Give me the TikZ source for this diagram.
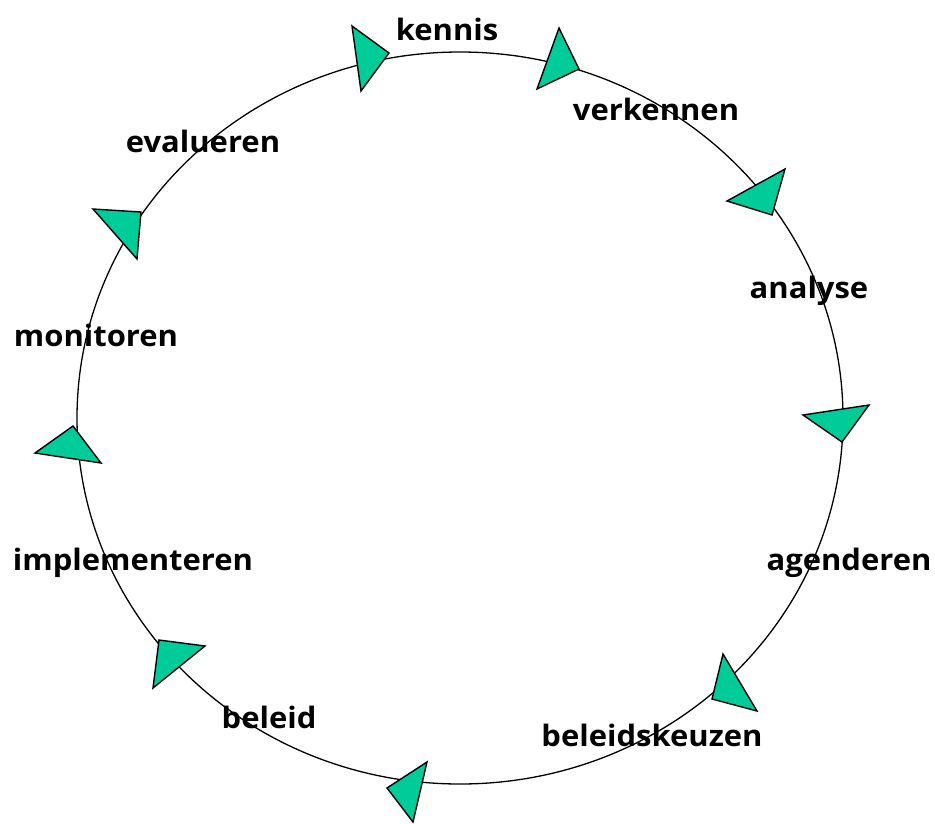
\documentclass[tikz,border=0pt]{standalone}
\usepackage{fontspec}
\setmainfont{Open Sans}[FakeStretch=1.05]
\begin{document}
\begin{tikzpicture}[x=1pt,y=-1pt,
  lbl/.style={font=\bfseries\fontsize{29.5}{34}\selectfont, inner sep=0pt, anchor=base},
  tri/.style={draw=black, line width=1.4pt, fill=triGreen, line join=miter},
  ring/.style={draw=black, line width=1.3pt}]
\definecolor{triGreen}{HTML}{00CC99}
\useasboundingbox (0,0) rectangle (935,823);
% labels
\node[lbl] (kennis) at (447,40) {kennis};
\node[lbl] (verkennen) at (656,120) {verkennen};
\node[lbl] (analyse) at (809,298) {analyse};
\node[lbl] (agenderen) at (849,570) {agenderen};
\node[lbl] (beleidskeuzen) at (652,746) {beleidskeuzen};
\node[lbl] (beleid) at (269,728) {beleid};
\node[lbl] (implementeren) at (133,570) {implementeren};
\node[lbl] (monitoren) at (96,346) {monitoren};
\node[lbl] (evalueren) at (203,152) {evalueren};
% cycle
\coordinate (c) at (460,418);
\draw[ring] (c) ellipse [x radius=383, y radius=366];
% arrowheads
\draw[tri] (352,26) -- (389,53) -- (361,91) -- cycle;
\draw[tri] (559,28) -- (579,69) -- (537,89) -- cycle;
\draw[tri] (785,169) -- (772,215) -- (727,201) -- cycle;
\draw[tri] (803,415) -- (869,405) -- (842,442) -- cycle;
\draw[tri] (723,654) -- (757,711) -- (712,699) -- cycle;
\draw[tri] (427,762) -- (413,822) -- (387,788) -- cycle;
\draw[tri] (159,640) -- (205,646) -- (153,688) -- cycle;
\draw[tri] (73,426) -- (101,463) -- (35,453) -- cycle;
\draw[tri] (93,209) -- (141,212) -- (137,259) -- cycle;
\end{tikzpicture}
\end{document}
